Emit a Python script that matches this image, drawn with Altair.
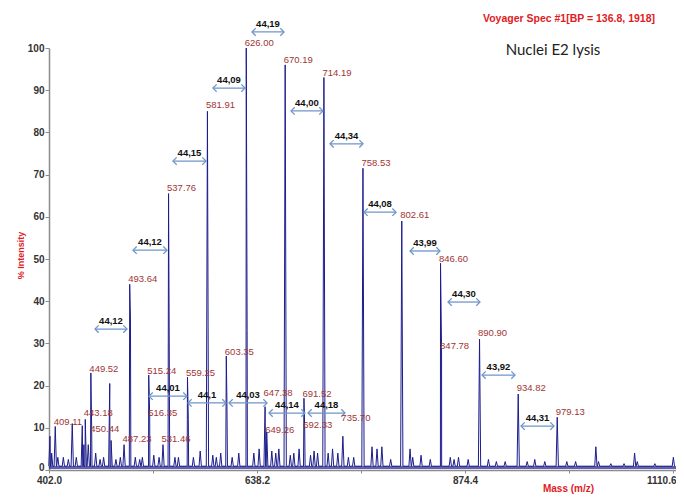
import altair as alt
import pandas as pd

# ---------------- data ----------------
# labelled peaks: m/z and apex height (% intensity)
peak_mz = [409.11, 443.18, 449.52, 450.44, 487.23, 493.64, 515.24, 516.35, 531.46,
           537.76, 559.25, 581.91, 603.35, 626.00, 647.38, 649.26, 670.19, 691.52,
           692.33, 714.19, 735.70, 758.53, 802.61, 846.60, 847.78, 890.90, 934.82,
           979.13]
peak_int = [10.3, 12.0, 23.0, 10.0, 6.0, 44.0, 22.5, 13.0, 6.0,
            65.5, 22.0, 85.0, 27.0, 100.0, 15.0, 9.0, 96.0, 17.0,
            10.0, 93.0, 8.0, 71.5, 59.0, 49.0, 29.0, 31.0, 18.0,
            12.5]
# vertical position (% units) of each peak label
label_y = [11.4, 13.5, 23.9, 9.7, 7.3, 45.3, 23.5, 13.5, 7.3,
           66.8, 23.0, 86.5, 28.0, 101.2, 18.2, 9.5, 97.2, 18.0,
           10.7, 94.1, 12.3, 72.7, 60.4, 50.0, 29.4, 32.5, 19.4,
           13.7]

# unlabelled minor peaks / shoulders
minor_mz = [403.1, 405.0, 412.0, 418.3, 424.0, 428.4, 433.0, 439.8, 441.6, 446.6,
            455.0, 460.0, 464.0, 471.0, 472.5, 478.0, 483.0, 494.5, 500.0, 505.0,
            508.0, 521.0, 527.0, 538.5, 545.0, 549.0, 560.2, 566.0, 573.7, 588.0,
            592.0, 597.0, 604.0, 610.0, 617.5, 627.0, 634.6, 640.6, 655.0, 659.5,
            663.0, 676.0, 680.0, 686.0, 699.0, 703.0, 707.0, 719.0, 724.0, 730.0,
            742.0, 748.0, 768.8, 774.5, 780.0, 790.0, 812.0, 815.0, 824.5, 835.0,
            857.7, 862.0, 867.0, 878.0, 901.0, 910.0, 920.0, 945.0, 953.6, 965.0,
            990.0, 1000.0, 1023.0, 1026.0, 1040.0, 1055.0, 1067.0, 1070.0, 1090.0,
            1111.0]
minor_int = [8.0, 4.0, 3.0, 3.0, 2.5, 11.0, 3.0, 10.5, 6.0, 6.0,
             4.0, 2.5, 3.0, 20.5, 7.0, 2.5, 3.0, 36.0, 3.0, 2.5,
             3.0, 3.5, 3.0, 31.5, 3.0, 3.0, 12.0, 3.0, 4.5, 3.5,
             3.0, 4.0, 17.0, 3.0, 4.0, 33.0, 4.0, 5.0, 4.5, 4.0,
             5.0, 3.5, 4.0, 5.0, 3.5, 4.5, 4.0, 4.0, 5.0, 4.0,
             3.0, 3.0, 5.5, 5.0, 5.5, 2.5, 5.0, 3.0, 3.5, 2.5,
             3.0, 2.5, 3.0, 2.5, 2.5, 2.0, 2.0, 2.0, 2.5, 2.0,
             2.0, 2.0, 5.5, 2.0, 1.5, 1.5, 4.0, 2.0, 1.5,
             3.0]

# double-headed arrows: start m/z, end m/z, height (%), label
arrow_x1 = [454.2, 497.4, 542.8, 588.2, 632.5, 676.8, 721.1, 759.7, 812.0, 855.1,
            893.7, 938.0, 515.6, 559.8, 606.4, 651.8, 696.1]
arrow_x2 = [490.6, 536.0, 580.3, 624.6, 668.9, 713.1, 758.6, 796.1, 846.0, 891.4,
            931.2, 975.5, 558.7, 603.0, 649.6, 692.7, 738.1]
arrow_y = [33.4, 52.1, 73.2, 90.5, 103.8, 85.1, 77.3, 61.1, 51.9, 39.8,
           22.5, 10.4, 17.5, 15.9, 15.9, 13.5, 13.5]
arrow_lbl = ["44,12", "44,12", "44,15", "44,09", "44,19", "44,00", "44,34", "44,08",
             "43,99", "44,30", "43,92", "44,31", "44,01", "44,1", "44,03", "44,14",
             "44,18"]

x_ticks = [402.0, 520.1, 638.2, 756.3, 874.4, 992.5, 1110.6]
x_domain = [402.0, 1114.0]
y_ticks = list(range(0, 101, 5))

header_text = ["Voyager Spec #1[BP = 136.8, 1918]"]
sample_text = ["Nuclei E2 lysis"]

# ---------------- build tables ----------------
HALF = 1.3   # half width of a drawn peak (m/z)
BASE = 0.9   # baseline level (%)
rows = []
for m, h in list(zip(peak_mz, peak_int)) + list(zip(minor_mz, minor_int)):
    rows += [(m - HALF, BASE), (m, h), (m + HALF, BASE)]
spec = pd.DataFrame(rows, columns=["mz", "inten"]).sort_values("mz")

peaks = pd.DataFrame({"mz": peak_mz, "inten": peak_int, "ly": label_y})
arrows = pd.DataFrame({"x1": arrow_x1, "x2": arrow_x2, "y": arrow_y, "lbl": arrow_lbl})
arrows["xm"] = (arrows.x1 + arrows.x2) / 2
base_df = pd.DataFrame({"a": [x_domain[0]], "b": [x_domain[1]], "y": [0.6]})

NAVY = "#1c1c8c"
LBL = "#a03535"
ARROW = "#6f95c8"
RED = "#e0201e"

xs = alt.Scale(domain=x_domain, nice=False, zero=False)
ys = alt.Scale(domain=[0, 100], nice=False, zero=False)

x_axis = alt.Axis(
    values=x_ticks, title="Mass (m/z)",
    labelExpr="abs((datum.value - 402) / 236.2 - round((datum.value - 402) / 236.2)) < 0.01 ? format(datum.value, '.1f') : ''",
    labelAlign={"condition": {"test": "datum.value > 1100", "value": "right"}, "value": "center"},
    labelOffset={"condition": {"test": "datum.value > 1100", "value": 3}, "value": 0},
    labelFont="Liberation Sans", labelFontWeight="bold", labelFontSize=10, labelColor="#333333",
    labelPadding=2, tickSize=3, tickColor="#8c8c8c", domainColor="#8c8c8c", domainWidth=1.5,
    grid=False, labelOverlap=False, labelBound=False,
    titleFont="Liberation Sans", titleFontWeight="bold", titleFontSize=10, titleColor=RED,
    titleX=519, titleY=18, titleBaseline="middle", titleAlign="center",
)
y_axis = alt.Axis(
    values=y_ticks, title="% Intensity",
    labelExpr="datum.value % 10 === 0 ? datum.label : ''",
    labelFont="Liberation Sans", labelFontWeight="bold", labelFontSize=10, labelColor="#333333",
    labelPadding=1,
    labelOffset={"condition": {"test": "datum.value === 0", "value": -3}, "value": 0},
    tickSize={"condition": {"test": "datum.value % 10 === 0", "value": 4}, "value": 2},
    tickColor="#8c8c8c", domainColor="#8c8c8c", domainWidth=1.5, grid=False,
    titleFont="Liberation Sans", titleFontWeight="bold", titleFontSize=9, titleColor=RED,
    titleAngle=270, titleX=-29, titleY=207, titleAlign="center", titleBaseline="middle",
)

baseline = alt.Chart(base_df).mark_rule(color=NAVY, strokeWidth=3, opacity=0.7).encode(
    x=alt.X("a:Q", scale=xs, axis=x_axis), x2="b:Q",
    y=alt.Y("y:Q", scale=ys, axis=y_axis),
)

line = alt.Chart(spec).mark_line(color=NAVY, strokeWidth=1, interpolate="linear").encode(
    x=alt.X("mz:Q", scale=xs), y=alt.Y("inten:Q", scale=ys), order="mz:Q"
)

plabels = alt.Chart(peaks).mark_text(
    align="left", baseline="middle", dx=-1.5, font="Liberation Sans",
    fontSize=9.5, color=LBL
).encode(x=alt.X("mz:Q", scale=xs), y=alt.Y("ly:Q", scale=ys), text=alt.Text("mz:Q", format=".2f"))

arrow_rule = alt.Chart(arrows).mark_rule(color=ARROW, strokeWidth=1.3).encode(
    x=alt.X("x1:Q", scale=xs), x2="x2:Q", y=alt.Y("y:Q", scale=ys)
)
head_l = alt.Chart(arrows).mark_point(
    shape="M1,-1L0,0L1,1", size=55, filled=False, color=ARROW, strokeWidth=1.3, opacity=1
).encode(x=alt.X("x1:Q", scale=xs), y=alt.Y("y:Q", scale=ys))
head_r = alt.Chart(arrows).mark_point(
    shape="M-1,-1L0,0L-1,1", size=55, filled=False, color=ARROW, strokeWidth=1.3, opacity=1
).encode(x=alt.X("x2:Q", scale=xs), y=alt.Y("y:Q", scale=ys))
arrow_txt = alt.Chart(arrows).mark_text(
    align="center", baseline="middle", dy=-8, font="Liberation Sans", fontSize=9.5,
    fontWeight="bold", color="#111111"
).encode(x=alt.X("xm:Q", scale=xs), y=alt.Y("y:Q", scale=ys), text="lbl:N")

header = alt.Chart(pd.DataFrame({"t": header_text})).mark_text(
    align="right", baseline="middle", font="Liberation Sans", fontSize=10.5,
    fontWeight="bold", color=RED
).encode(x=alt.value(606), y=alt.value(-29), text="t:N")
sample = alt.Chart(pd.DataFrame({"t": sample_text})).mark_text(
    align="center", baseline="middle", font="Lato", fontSize=15, color="#222222"
).encode(x=alt.value(504), y=alt.value(2), text="t:N")

chart = alt.layer(
    baseline, line, arrow_rule, head_l, head_r, arrow_txt, plabels, header, sample
).properties(
    width=627, height=422,
    autosize=alt.AutoSizeParams(type="none"),
    padding={"left": 41, "top": 40, "right": 0, "bottom": 26},
    background="white",
).configure_view(stroke=None)

chart.save("out.html", embed_options={"renderer": "svg", "actions": False})
